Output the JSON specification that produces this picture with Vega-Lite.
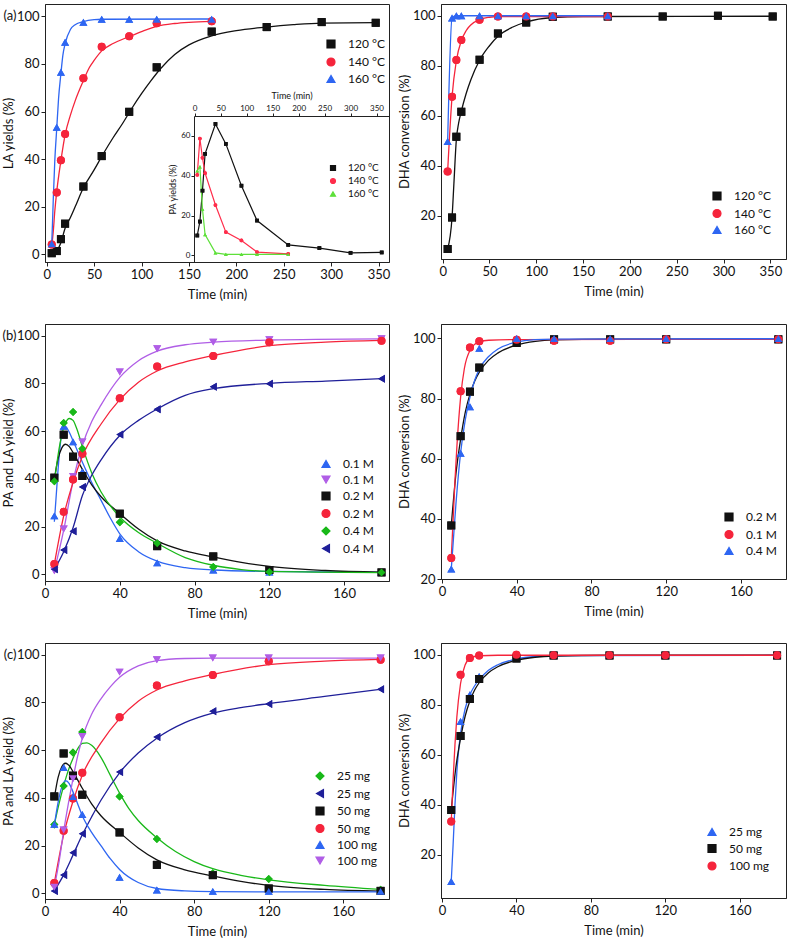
{
"$schema": "https://vega.github.io/schema/vega-lite/v6.json",
"padding": {"left": 1, "top": 3, "right": 2, "bottom": 2},
"config": {
  "font": "Lato",
  "view": {"stroke": "#222222", "strokeWidth": 1},
  "axis": {"grid": false, "domainColor": "#222222", "tickColor": "#222222", "labelColor": "#111111", "titleColor": "#111111", "labelFontSize": 13, "titleFontSize": 13, "titleFontWeight": "normal", "tickSize": 4, "labelPadding": 2, "labelFlush": false, "labelOverlap": false},
  "axisX": {"titlePadding": 7},
  "axisY": {"titlePadding": 1},
  "legend": {"symbolSize": 64, "symbolStrokeWidth": 1.2, "labelFontSize": 12, "labelOffset": 11, "rowPadding": 3.5, "labelColor": "#111111", "symbolOpacity": 1},
  "title": {"fontSize": 13, "fontWeight": "normal", "color": "#111111"}
},
"datasets": {
  "aL_pts": [
    {"s":"120 °C","t":5.3,"v":0.5},{"s":"120 °C","t":10.6,"v":1.4},{"s":"120 °C","t":15,"v":6.4},{"s":"120 °C","t":19.4,"v":12.9},{"s":"120 °C","t":38.7,"v":28.5},{"s":"120 °C","t":58,"v":41.3},{"s":"120 °C","t":87,"v":59.9},{"s":"120 °C","t":116,"v":78.6},{"s":"120 °C","t":174,"v":93.6},{"s":"120 °C","t":232,"v":95.5},{"s":"120 °C","t":290,"v":97.6},{"s":"120 °C","t":347,"v":97.3},
    {"s":"140 °C","t":5.3,"v":4.2},{"s":"140 °C","t":10.6,"v":26},{"s":"140 °C","t":15,"v":39.6},{"s":"140 °C","t":19.4,"v":50.6},{"s":"140 °C","t":38.7,"v":74},{"s":"140 °C","t":58,"v":87.2},{"s":"140 °C","t":87,"v":91.6},{"s":"140 °C","t":116,"v":97.1},{"s":"140 °C","t":174,"v":97.9},
    {"s":"160 °C","t":5.3,"v":4.5},{"s":"160 °C","t":10.6,"v":53.4},{"s":"160 °C","t":15,"v":76.5},{"s":"160 °C","t":19.4,"v":89.1},{"s":"160 °C","t":38.7,"v":97.5},{"s":"160 °C","t":58,"v":98.8},{"s":"160 °C","t":87,"v":98.8},{"s":"160 °C","t":116,"v":98.8},{"s":"160 °C","t":174,"v":98.8}
  ],
  "aL_fit": [
    {"s":"120 °C","t":5.3,"v":0.5},{"s":"120 °C","t":10.6,"v":1.6},{"s":"120 °C","t":15,"v":5},{"s":"120 °C","t":19.4,"v":11},{"s":"120 °C","t":25,"v":15.5},{"s":"120 °C","t":30,"v":20},{"s":"120 °C","t":38.7,"v":28},{"s":"120 °C","t":50,"v":35.5},{"s":"120 °C","t":60,"v":42.5},{"s":"120 °C","t":70,"v":49},{"s":"120 °C","t":80,"v":55},{"s":"120 °C","t":90,"v":61.5},{"s":"120 °C","t":100,"v":67.5},{"s":"120 °C","t":110,"v":73},{"s":"120 °C","t":120,"v":78},{"s":"120 °C","t":135,"v":84},{"s":"120 °C","t":150,"v":88},{"s":"120 °C","t":174,"v":91.8},{"s":"120 °C","t":200,"v":94},{"s":"120 °C","t":232,"v":95.5},{"s":"120 °C","t":260,"v":96.5},{"s":"120 °C","t":290,"v":97.2},{"s":"120 °C","t":347,"v":97.4},
    {"s":"140 °C","t":5.3,"v":3.5},{"s":"140 °C","t":7,"v":10},{"s":"140 °C","t":8.5,"v":18},{"s":"140 °C","t":10.6,"v":26.5},{"s":"140 °C","t":13,"v":34},{"s":"140 °C","t":15,"v":39.5},{"s":"140 °C","t":19.4,"v":50.2},{"s":"140 °C","t":25,"v":58.5},{"s":"140 °C","t":30,"v":64.5},{"s":"140 °C","t":38.7,"v":73},{"s":"140 °C","t":45,"v":78.5},{"s":"140 °C","t":50,"v":81.5},{"s":"140 °C","t":58,"v":85.5},{"s":"140 °C","t":70,"v":88.6},{"s":"140 °C","t":87,"v":91.5},{"s":"140 °C","t":100,"v":93.6},{"s":"140 °C","t":116,"v":95.8},{"s":"140 °C","t":135,"v":97},{"s":"140 °C","t":150,"v":97.5},{"s":"140 °C","t":174,"v":97.9},
    {"s":"160 °C","t":5.3,"v":4.5},{"s":"160 °C","t":6,"v":12},{"s":"160 °C","t":7,"v":24},{"s":"160 °C","t":8.5,"v":39},{"s":"160 °C","t":10.6,"v":53},{"s":"160 °C","t":12.5,"v":65.5},{"s":"160 °C","t":15,"v":76},{"s":"160 °C","t":17,"v":83.5},{"s":"160 °C","t":19.4,"v":88.5},{"s":"160 °C","t":25,"v":94.5},{"s":"160 °C","t":30,"v":96.5},{"s":"160 °C","t":38.7,"v":97.8},{"s":"160 °C","t":50,"v":98.6},{"s":"160 °C","t":58,"v":98.8},{"s":"160 °C","t":174,"v":98.9}
  ],
  "inset": [
    {"s":"120 °C","t":5,"v":10},{"s":"120 °C","t":10,"v":17},{"s":"120 °C","t":15,"v":32.5},{"s":"120 °C","t":20,"v":51},{"s":"120 °C","t":40,"v":66},{"s":"120 °C","t":60,"v":56},{"s":"120 °C","t":90,"v":35},{"s":"120 °C","t":120,"v":17.5},{"s":"120 °C","t":180,"v":5.3},{"s":"120 °C","t":240,"v":3.7},{"s":"120 °C","t":300,"v":1.3},{"s":"120 °C","t":360,"v":1.5},
    {"s":"140 °C","t":5,"v":40.5},{"s":"140 °C","t":10,"v":58.7},{"s":"140 °C","t":15,"v":49},{"s":"140 °C","t":20,"v":41.3},{"s":"140 °C","t":40,"v":25.3},{"s":"140 °C","t":60,"v":11.7},{"s":"140 °C","t":90,"v":7.5},{"s":"140 °C","t":120,"v":1.7},{"s":"140 °C","t":180,"v":0.8},
    {"s":"160 °C","t":5,"v":42.5},{"s":"160 °C","t":10,"v":44.5},{"s":"160 °C","t":15,"v":23.3},{"s":"160 °C","t":20,"v":10.5},{"s":"160 °C","t":40,"v":1.3},{"s":"160 °C","t":60,"v":0.5},{"s":"160 °C","t":90,"v":0.5},{"s":"160 °C","t":120,"v":0.5},{"s":"160 °C","t":180,"v":0.5}
  ],
  "aR_pts": [
    {"s":"120 °C","t":5.3,"v":6.7},{"s":"120 °C","t":10,"v":19.3},{"s":"120 °C","t":14.6,"v":51.6},{"s":"120 °C","t":19.9,"v":61.6},{"s":"120 °C","t":39.4,"v":82.4},{"s":"120 °C","t":59,"v":92.9},{"s":"120 °C","t":89.2,"v":97.3},{"s":"120 °C","t":117.6,"v":99.6},{"s":"120 °C","t":176.3,"v":99.7},{"s":"120 °C","t":235,"v":99.7},{"s":"120 °C","t":294,"v":100},{"s":"120 °C","t":352.5,"v":99.7},
    {"s":"140 °C","t":5.3,"v":37.7},{"s":"140 °C","t":10,"v":67.6},{"s":"140 °C","t":14.6,"v":82.3},{"s":"140 °C","t":19.9,"v":90.3},{"s":"140 °C","t":39.4,"v":98.4},{"s":"140 °C","t":59,"v":99.7},{"s":"140 °C","t":89.2,"v":99.7},{"s":"140 °C","t":117.6,"v":99.7},{"s":"140 °C","t":176.3,"v":99.7},
    {"s":"160 °C","t":5.3,"v":49.7},{"s":"160 °C","t":10,"v":99.1},{"s":"160 °C","t":14.6,"v":100},{"s":"160 °C","t":19.9,"v":100},{"s":"160 °C","t":39.4,"v":100},{"s":"160 °C","t":59,"v":100},{"s":"160 °C","t":89.2,"v":100},{"s":"160 °C","t":117.6,"v":100},{"s":"160 °C","t":176.3,"v":100}
  ],
  "aR_fit": [
    {"s":"120 °C","t":5.3,"v":6.7},{"s":"120 °C","t":10,"v":19.3},{"s":"120 °C","t":12,"v":33},{"s":"120 °C","t":14.6,"v":50.5},{"s":"120 °C","t":17,"v":57},{"s":"120 °C","t":19.9,"v":61.8},{"s":"120 °C","t":25,"v":68.8},{"s":"120 °C","t":30,"v":74.3},{"s":"120 °C","t":39.4,"v":82.2},{"s":"120 °C","t":50,"v":88},{"s":"120 °C","t":59,"v":91.8},{"s":"120 °C","t":75,"v":95.5},{"s":"120 °C","t":89.2,"v":97.5},{"s":"120 °C","t":117.6,"v":99.3},{"s":"120 °C","t":150,"v":99.7},{"s":"120 °C","t":352.5,"v":99.8},
    {"s":"140 °C","t":5.3,"v":37.7},{"s":"140 °C","t":10,"v":67.6},{"s":"140 °C","t":14.6,"v":82},{"s":"140 °C","t":19.9,"v":90},{"s":"140 °C","t":25,"v":94},{"s":"140 °C","t":30,"v":96.3},{"s":"140 °C","t":39.4,"v":98.5},{"s":"140 °C","t":50,"v":99.4},{"s":"140 °C","t":59,"v":99.7},{"s":"140 °C","t":176.3,"v":99.7},
    {"s":"160 °C","t":5.3,"v":49.7},{"s":"160 °C","t":10,"v":99.1},{"s":"160 °C","t":14.6,"v":100},{"s":"160 °C","t":176.3,"v":100}
  ],
  "bL_pts": [
    {"s":"PA 0.1 M","t":5,"v":24.5},{"s":"PA 0.1 M","t":10,"v":62},{"s":"PA 0.1 M","t":15,"v":55.5},{"s":"PA 0.1 M","t":20,"v":43},{"s":"PA 0.1 M","t":40,"v":15},{"s":"PA 0.1 M","t":60,"v":4.8},{"s":"PA 0.1 M","t":90,"v":1.8},{"s":"PA 0.1 M","t":120,"v":1},{"s":"PA 0.1 M","t":180,"v":0.8},
    {"s":"LA 0.1 M","t":5,"v":1.5},{"s":"LA 0.1 M","t":10,"v":19},{"s":"LA 0.1 M","t":15,"v":41},{"s":"LA 0.1 M","t":20,"v":55.5},{"s":"LA 0.1 M","t":40,"v":84.8},{"s":"LA 0.1 M","t":60,"v":94.5},{"s":"LA 0.1 M","t":90,"v":97.3},{"s":"LA 0.1 M","t":120,"v":98.3},{"s":"LA 0.1 M","t":180,"v":98.7},
    {"s":"PA 0.2 M","t":5,"v":40.5},{"s":"PA 0.2 M","t":10,"v":58.5},{"s":"PA 0.2 M","t":15,"v":49.3},{"s":"PA 0.2 M","t":20,"v":41.2},{"s":"PA 0.2 M","t":40,"v":25.4},{"s":"PA 0.2 M","t":60,"v":11.8},{"s":"PA 0.2 M","t":90,"v":7.5},{"s":"PA 0.2 M","t":120,"v":1.8},{"s":"PA 0.2 M","t":180,"v":0.8},
    {"s":"LA 0.2 M","t":5,"v":4.3},{"s":"LA 0.2 M","t":10,"v":26.2},{"s":"LA 0.2 M","t":15,"v":39.7},{"s":"LA 0.2 M","t":20,"v":50.5},{"s":"LA 0.2 M","t":40,"v":73.8},{"s":"LA 0.2 M","t":60,"v":87.1},{"s":"LA 0.2 M","t":90,"v":91.5},{"s":"LA 0.2 M","t":120,"v":97.2},{"s":"LA 0.2 M","t":180,"v":97.9},
    {"s":"PA 0.4 M","t":5,"v":39},{"s":"PA 0.4 M","t":10,"v":63.4},{"s":"PA 0.4 M","t":15,"v":68},{"s":"PA 0.4 M","t":20,"v":52.6},{"s":"PA 0.4 M","t":40,"v":21.8},{"s":"PA 0.4 M","t":60,"v":13},{"s":"PA 0.4 M","t":90,"v":3.1},{"s":"PA 0.4 M","t":120,"v":1},{"s":"PA 0.4 M","t":180,"v":0.8},
    {"s":"LA 0.4 M","t":5,"v":2.1},{"s":"LA 0.4 M","t":10,"v":10.2},{"s":"LA 0.4 M","t":15,"v":18},{"s":"LA 0.4 M","t":20,"v":36.6},{"s":"LA 0.4 M","t":40,"v":58.6},{"s":"LA 0.4 M","t":60,"v":69.2},{"s":"LA 0.4 M","t":90,"v":78.6},{"s":"LA 0.4 M","t":120,"v":79.9},{"s":"LA 0.4 M","t":180,"v":82}
  ],
  "bL_fit": [
    {"s":"PA 0.1 M","t":5,"v":22},{"s":"PA 0.1 M","t":6,"v":33},{"s":"PA 0.1 M","t":7,"v":44},{"s":"PA 0.1 M","t":8,"v":53},{"s":"PA 0.1 M","t":9,"v":59.5},{"s":"PA 0.1 M","t":10,"v":62},{"s":"PA 0.1 M","t":11,"v":62},{"s":"PA 0.1 M","t":12,"v":61},{"s":"PA 0.1 M","t":13,"v":59.5},{"s":"PA 0.1 M","t":15,"v":56},{"s":"PA 0.1 M","t":17.5,"v":51.5},{"s":"PA 0.1 M","t":20,"v":47},{"s":"PA 0.1 M","t":25,"v":38.5},{"s":"PA 0.1 M","t":30,"v":31},{"s":"PA 0.1 M","t":35,"v":23.5},{"s":"PA 0.1 M","t":40,"v":17},{"s":"PA 0.1 M","t":50,"v":9.5},{"s":"PA 0.1 M","t":60,"v":5.5},{"s":"PA 0.1 M","t":75,"v":2.8},{"s":"PA 0.1 M","t":90,"v":1.8},{"s":"PA 0.1 M","t":120,"v":1.2},{"s":"PA 0.1 M","t":180,"v":0.8},
    {"s":"LA 0.1 M","t":5,"v":1.5},{"s":"LA 0.1 M","t":10,"v":18.5},{"s":"LA 0.1 M","t":15,"v":39},{"s":"LA 0.1 M","t":20,"v":54},{"s":"LA 0.1 M","t":25,"v":64},{"s":"LA 0.1 M","t":30,"v":71},{"s":"LA 0.1 M","t":40,"v":82.5},{"s":"LA 0.1 M","t":50,"v":89.5},{"s":"LA 0.1 M","t":60,"v":93.5},{"s":"LA 0.1 M","t":75,"v":96.2},{"s":"LA 0.1 M","t":90,"v":97.3},{"s":"LA 0.1 M","t":120,"v":98.2},{"s":"LA 0.1 M","t":180,"v":98.7},
    {"s":"PA 0.2 M","t":5,"v":40},{"s":"PA 0.2 M","t":7,"v":48.5},{"s":"PA 0.2 M","t":9,"v":53},{"s":"PA 0.2 M","t":11,"v":54.5},{"s":"PA 0.2 M","t":13,"v":53.5},{"s":"PA 0.2 M","t":15,"v":51},{"s":"PA 0.2 M","t":20,"v":44},{"s":"PA 0.2 M","t":25,"v":37.5},{"s":"PA 0.2 M","t":30,"v":32.5},{"s":"PA 0.2 M","t":40,"v":25.5},{"s":"PA 0.2 M","t":50,"v":19},{"s":"PA 0.2 M","t":60,"v":14},{"s":"PA 0.2 M","t":75,"v":9.8},{"s":"PA 0.2 M","t":90,"v":7.3},{"s":"PA 0.2 M","t":105,"v":5},{"s":"PA 0.2 M","t":120,"v":3.3},{"s":"PA 0.2 M","t":150,"v":1.6},{"s":"PA 0.2 M","t":180,"v":0.9},
    {"s":"LA 0.2 M","t":5,"v":4.3},{"s":"LA 0.2 M","t":10,"v":24.5},{"s":"LA 0.2 M","t":15,"v":38.5},{"s":"LA 0.2 M","t":20,"v":49.5},{"s":"LA 0.2 M","t":30,"v":63},{"s":"LA 0.2 M","t":40,"v":73.2},{"s":"LA 0.2 M","t":50,"v":80.5},{"s":"LA 0.2 M","t":60,"v":85.2},{"s":"LA 0.2 M","t":75,"v":89},{"s":"LA 0.2 M","t":90,"v":91.7},{"s":"LA 0.2 M","t":120,"v":95.8},{"s":"LA 0.2 M","t":150,"v":97.3},{"s":"LA 0.2 M","t":180,"v":98},
    {"s":"PA 0.4 M","t":5,"v":38.5},{"s":"PA 0.4 M","t":7,"v":50},{"s":"PA 0.4 M","t":9,"v":58.5},{"s":"PA 0.4 M","t":11,"v":63.5},{"s":"PA 0.4 M","t":13,"v":65.3},{"s":"PA 0.4 M","t":15,"v":64.5},{"s":"PA 0.4 M","t":17,"v":61},{"s":"PA 0.4 M","t":20,"v":53.5},{"s":"PA 0.4 M","t":25,"v":42.5},{"s":"PA 0.4 M","t":30,"v":34.5},{"s":"PA 0.4 M","t":40,"v":24},{"s":"PA 0.4 M","t":50,"v":17.5},{"s":"PA 0.4 M","t":60,"v":13},{"s":"PA 0.4 M","t":75,"v":7},{"s":"PA 0.4 M","t":90,"v":3.8},{"s":"PA 0.4 M","t":105,"v":2},{"s":"PA 0.4 M","t":120,"v":1.2},{"s":"PA 0.4 M","t":180,"v":0.7},
    {"s":"LA 0.4 M","t":5,"v":2.1},{"s":"LA 0.4 M","t":10,"v":9.5},{"s":"LA 0.4 M","t":15,"v":19.5},{"s":"LA 0.4 M","t":20,"v":33},{"s":"LA 0.4 M","t":25,"v":41.5},{"s":"LA 0.4 M","t":30,"v":48},{"s":"LA 0.4 M","t":40,"v":58.2},{"s":"LA 0.4 M","t":50,"v":64.5},{"s":"LA 0.4 M","t":60,"v":69.3},{"s":"LA 0.4 M","t":75,"v":75},{"s":"LA 0.4 M","t":90,"v":77.8},{"s":"LA 0.4 M","t":120,"v":80},{"s":"LA 0.4 M","t":150,"v":81},{"s":"LA 0.4 M","t":180,"v":82}
  ],
  "bR_pts": [
    {"s":"0.2 M","t":5,"v":37.8},{"s":"0.2 M","t":10,"v":67.5},{"s":"0.2 M","t":15,"v":82.3},{"s":"0.2 M","t":20,"v":90.3},{"s":"0.2 M","t":40,"v":98.5},{"s":"0.2 M","t":60,"v":99.7},{"s":"0.2 M","t":90,"v":99.7},{"s":"0.2 M","t":120,"v":99.7},{"s":"0.2 M","t":180,"v":99.7},
    {"s":"0.1 M","t":5,"v":27},{"s":"0.1 M","t":10,"v":82.4},{"s":"0.1 M","t":15,"v":97},{"s":"0.1 M","t":20,"v":99.1},{"s":"0.1 M","t":40,"v":99.6},{"s":"0.1 M","t":60,"v":99.2},{"s":"0.1 M","t":90,"v":99.2},{"s":"0.1 M","t":120,"v":99.7},{"s":"0.1 M","t":180,"v":99.7},
    {"s":"0.4 M","t":5,"v":23.3},{"s":"0.4 M","t":10,"v":61.8},{"s":"0.4 M","t":15,"v":77.3},{"s":"0.4 M","t":20,"v":96.7},{"s":"0.4 M","t":40,"v":100},{"s":"0.4 M","t":60,"v":100},{"s":"0.4 M","t":90,"v":100},{"s":"0.4 M","t":120,"v":100},{"s":"0.4 M","t":180,"v":100}
  ],
  "bR_fit": [
    {"s":"0.2 M","t":5,"v":37.8},{"s":"0.2 M","t":7.5,"v":55},{"s":"0.2 M","t":10,"v":66.5},{"s":"0.2 M","t":12.5,"v":75.5},{"s":"0.2 M","t":15,"v":81.5},{"s":"0.2 M","t":17.5,"v":85.8},{"s":"0.2 M","t":20,"v":88.8},{"s":"0.2 M","t":25,"v":92.8},{"s":"0.2 M","t":30,"v":95.2},{"s":"0.2 M","t":40,"v":97.8},{"s":"0.2 M","t":50,"v":99},{"s":"0.2 M","t":60,"v":99.5},{"s":"0.2 M","t":90,"v":99.8},{"s":"0.2 M","t":180,"v":99.8},
    {"s":"0.1 M","t":5,"v":27},{"s":"0.1 M","t":6,"v":40},{"s":"0.1 M","t":7,"v":53},{"s":"0.1 M","t":8,"v":64},{"s":"0.1 M","t":10,"v":80.5},{"s":"0.1 M","t":12,"v":90},{"s":"0.1 M","t":15,"v":96},{"s":"0.1 M","t":20,"v":98.9},{"s":"0.1 M","t":25,"v":99.4},{"s":"0.1 M","t":40,"v":99.6},{"s":"0.1 M","t":180,"v":99.7},
    {"s":"0.4 M","t":5,"v":23.3},{"s":"0.4 M","t":6,"v":32},{"s":"0.4 M","t":7.5,"v":45},{"s":"0.4 M","t":10,"v":62},{"s":"0.4 M","t":12.5,"v":73},{"s":"0.4 M","t":15,"v":80.5},{"s":"0.4 M","t":17.5,"v":86},{"s":"0.4 M","t":20,"v":89.8},{"s":"0.4 M","t":25,"v":94},{"s":"0.4 M","t":30,"v":96.5},{"s":"0.4 M","t":40,"v":98.8},{"s":"0.4 M","t":50,"v":99.6},{"s":"0.4 M","t":60,"v":99.8},{"s":"0.4 M","t":180,"v":99.9}
  ],
  "cL_pts": [
    {"s":"PA 25 mg","t":5,"v":28.8},{"s":"PA 25 mg","t":10,"v":45},{"s":"PA 25 mg","t":15,"v":59},{"s":"PA 25 mg","t":20,"v":67.6},{"s":"PA 25 mg","t":40,"v":40.6},{"s":"PA 25 mg","t":60,"v":22.8},{"s":"PA 25 mg","t":90,"v":8.4},{"s":"PA 25 mg","t":120,"v":6},{"s":"PA 25 mg","t":180,"v":1.5},
    {"s":"LA 25 mg","t":5,"v":1},{"s":"LA 25 mg","t":10,"v":7.7},{"s":"LA 25 mg","t":15,"v":17},{"s":"LA 25 mg","t":20,"v":25},{"s":"LA 25 mg","t":40,"v":50.8},{"s":"LA 25 mg","t":60,"v":65.5},{"s":"LA 25 mg","t":90,"v":76.3},{"s":"LA 25 mg","t":120,"v":79.3},{"s":"LA 25 mg","t":180,"v":85.5},
    {"s":"PA 50 mg","t":5,"v":40.6},{"s":"PA 50 mg","t":10,"v":58.6},{"s":"PA 50 mg","t":15,"v":49.3},{"s":"PA 50 mg","t":20,"v":41.3},{"s":"PA 50 mg","t":40,"v":25.5},{"s":"PA 50 mg","t":60,"v":11.9},{"s":"PA 50 mg","t":90,"v":7.6},{"s":"PA 50 mg","t":120,"v":2},{"s":"PA 50 mg","t":180,"v":1},
    {"s":"LA 50 mg","t":5,"v":4.3},{"s":"LA 50 mg","t":10,"v":26.2},{"s":"LA 50 mg","t":15,"v":39.7},{"s":"LA 50 mg","t":20,"v":50.5},{"s":"LA 50 mg","t":40,"v":73.8},{"s":"LA 50 mg","t":60,"v":87.1},{"s":"LA 50 mg","t":90,"v":91.5},{"s":"LA 50 mg","t":120,"v":97.2},{"s":"LA 50 mg","t":180,"v":97.9},
    {"s":"PA 100 mg","t":5,"v":28.9},{"s":"PA 100 mg","t":10,"v":52.7},{"s":"PA 100 mg","t":15,"v":40.5},{"s":"PA 100 mg","t":20,"v":33},{"s":"PA 100 mg","t":40,"v":6.7},{"s":"PA 100 mg","t":60,"v":1.4},{"s":"PA 100 mg","t":90,"v":0.8},{"s":"PA 100 mg","t":120,"v":0.8},{"s":"PA 100 mg","t":180,"v":0.8},
    {"s":"LA 100 mg","t":5,"v":2.5},{"s":"LA 100 mg","t":10,"v":26.5},{"s":"LA 100 mg","t":15,"v":48},{"s":"LA 100 mg","t":20,"v":65.7},{"s":"LA 100 mg","t":40,"v":92.7},{"s":"LA 100 mg","t":60,"v":97.9},{"s":"LA 100 mg","t":90,"v":98.6},{"s":"LA 100 mg","t":120,"v":98.6},{"s":"LA 100 mg","t":180,"v":98.6}
  ],
  "cL_fit": [
    {"s":"PA 25 mg","t":5,"v":28.8},{"s":"PA 25 mg","t":7.5,"v":37.5},{"s":"PA 25 mg","t":10,"v":45},{"s":"PA 25 mg","t":12.5,"v":51.5},{"s":"PA 25 mg","t":15,"v":56.5},{"s":"PA 25 mg","t":17.5,"v":60.5},{"s":"PA 25 mg","t":20,"v":62.8},{"s":"PA 25 mg","t":22.5,"v":63},{"s":"PA 25 mg","t":25,"v":62},{"s":"PA 25 mg","t":30,"v":57},{"s":"PA 25 mg","t":35,"v":49.5},{"s":"PA 25 mg","t":40,"v":42},{"s":"PA 25 mg","t":45,"v":35.5},{"s":"PA 25 mg","t":50,"v":30.5},{"s":"PA 25 mg","t":60,"v":23.3},{"s":"PA 25 mg","t":70,"v":17.5},{"s":"PA 25 mg","t":80,"v":13.3},{"s":"PA 25 mg","t":90,"v":10.3},{"s":"PA 25 mg","t":105,"v":7.5},{"s":"PA 25 mg","t":120,"v":5.6},{"s":"PA 25 mg","t":150,"v":3.3},{"s":"PA 25 mg","t":180,"v":1.6},
    {"s":"LA 25 mg","t":5,"v":1},{"s":"LA 25 mg","t":10,"v":7.7},{"s":"LA 25 mg","t":15,"v":16},{"s":"LA 25 mg","t":20,"v":24.5},{"s":"LA 25 mg","t":25,"v":32},{"s":"LA 25 mg","t":30,"v":39},{"s":"LA 25 mg","t":40,"v":50.5},{"s":"LA 25 mg","t":50,"v":58.8},{"s":"LA 25 mg","t":60,"v":65},{"s":"LA 25 mg","t":75,"v":71.5},{"s":"LA 25 mg","t":90,"v":75.5},{"s":"LA 25 mg","t":105,"v":77.8},{"s":"LA 25 mg","t":120,"v":79.5},{"s":"LA 25 mg","t":150,"v":82.5},{"s":"LA 25 mg","t":180,"v":85.5},
    {"s":"PA 50 mg","t":5,"v":40},{"s":"PA 50 mg","t":7,"v":48.5},{"s":"PA 50 mg","t":9,"v":53},{"s":"PA 50 mg","t":11,"v":54.5},{"s":"PA 50 mg","t":13,"v":53.5},{"s":"PA 50 mg","t":15,"v":51},{"s":"PA 50 mg","t":20,"v":44},{"s":"PA 50 mg","t":25,"v":37.5},{"s":"PA 50 mg","t":30,"v":32.5},{"s":"PA 50 mg","t":40,"v":25.5},{"s":"PA 50 mg","t":50,"v":19},{"s":"PA 50 mg","t":60,"v":14},{"s":"PA 50 mg","t":75,"v":9.8},{"s":"PA 50 mg","t":90,"v":7.3},{"s":"PA 50 mg","t":105,"v":5},{"s":"PA 50 mg","t":120,"v":3.3},{"s":"PA 50 mg","t":150,"v":1.6},{"s":"PA 50 mg","t":180,"v":0.9},
    {"s":"LA 50 mg","t":5,"v":4.3},{"s":"LA 50 mg","t":10,"v":24.5},{"s":"LA 50 mg","t":15,"v":38.5},{"s":"LA 50 mg","t":20,"v":49.5},{"s":"LA 50 mg","t":30,"v":63},{"s":"LA 50 mg","t":40,"v":73.2},{"s":"LA 50 mg","t":50,"v":80.5},{"s":"LA 50 mg","t":60,"v":85.2},{"s":"LA 50 mg","t":75,"v":89},{"s":"LA 50 mg","t":90,"v":91.7},{"s":"LA 50 mg","t":120,"v":95.8},{"s":"LA 50 mg","t":150,"v":97.3},{"s":"LA 50 mg","t":180,"v":98},
    {"s":"PA 100 mg","t":5,"v":28.5},{"s":"PA 100 mg","t":7,"v":38},{"s":"PA 100 mg","t":9,"v":44.5},{"s":"PA 100 mg","t":11,"v":47.2},{"s":"PA 100 mg","t":13,"v":46},{"s":"PA 100 mg","t":15,"v":42.5},{"s":"PA 100 mg","t":17.5,"v":37.5},{"s":"PA 100 mg","t":20,"v":32.5},{"s":"PA 100 mg","t":25,"v":25.5},{"s":"PA 100 mg","t":30,"v":20},{"s":"PA 100 mg","t":35,"v":14.5},{"s":"PA 100 mg","t":40,"v":10},{"s":"PA 100 mg","t":50,"v":4.5},{"s":"PA 100 mg","t":60,"v":2},{"s":"PA 100 mg","t":75,"v":1},{"s":"PA 100 mg","t":90,"v":0.7},{"s":"PA 100 mg","t":120,"v":0.6},{"s":"PA 100 mg","t":180,"v":0.6},
    {"s":"LA 100 mg","t":5,"v":2.5},{"s":"LA 100 mg","t":7.5,"v":13},{"s":"LA 100 mg","t":10,"v":26},{"s":"LA 100 mg","t":12.5,"v":37.5},{"s":"LA 100 mg","t":15,"v":48},{"s":"LA 100 mg","t":17.5,"v":57.5},{"s":"LA 100 mg","t":20,"v":65},{"s":"LA 100 mg","t":25,"v":75},{"s":"LA 100 mg","t":30,"v":81.5},{"s":"LA 100 mg","t":35,"v":86.5},{"s":"LA 100 mg","t":40,"v":90.5},{"s":"LA 100 mg","t":50,"v":95.3},{"s":"LA 100 mg","t":60,"v":97.5},{"s":"LA 100 mg","t":75,"v":98.4},{"s":"LA 100 mg","t":90,"v":98.6},{"s":"LA 100 mg","t":180,"v":98.6}
  ],
  "cR_pts": [
    {"s":"25 mg","t":5,"v":9.3},{"s":"25 mg","t":10,"v":73.3},{"s":"25 mg","t":15,"v":84},{"s":"25 mg","t":20,"v":91.3},{"s":"25 mg","t":40,"v":98.7},{"s":"25 mg","t":60,"v":99.7},{"s":"25 mg","t":90,"v":99.7},{"s":"25 mg","t":120,"v":99.7},{"s":"25 mg","t":180,"v":99.7},
    {"s":"50 mg","t":5,"v":37.9},{"s":"50 mg","t":10,"v":67.5},{"s":"50 mg","t":15,"v":82.3},{"s":"50 mg","t":20,"v":90.3},{"s":"50 mg","t":40,"v":98.5},{"s":"50 mg","t":60,"v":99.7},{"s":"50 mg","t":90,"v":99.7},{"s":"50 mg","t":120,"v":99.7},{"s":"50 mg","t":180,"v":99.7},
    {"s":"100 mg","t":5,"v":33.3},{"s":"100 mg","t":10,"v":92},{"s":"100 mg","t":15,"v":98.7},{"s":"100 mg","t":20,"v":99.7},{"s":"100 mg","t":40,"v":100},{"s":"100 mg","t":60,"v":99.8},{"s":"100 mg","t":90,"v":99.8},{"s":"100 mg","t":120,"v":99.8},{"s":"100 mg","t":180,"v":99.8}
  ],
  "cR_fit": [
    {"s":"25 mg","t":5,"v":9.3},{"s":"25 mg","t":6,"v":24},{"s":"25 mg","t":7,"v":40},{"s":"25 mg","t":8,"v":53},{"s":"25 mg","t":9,"v":62},{"s":"25 mg","t":10,"v":68.5},{"s":"25 mg","t":12.5,"v":78.5},{"s":"25 mg","t":15,"v":84},{"s":"25 mg","t":17.5,"v":87.5},{"s":"25 mg","t":20,"v":90},{"s":"25 mg","t":25,"v":93.8},{"s":"25 mg","t":30,"v":96},{"s":"25 mg","t":40,"v":98.3},{"s":"25 mg","t":50,"v":99.3},{"s":"25 mg","t":60,"v":99.6},{"s":"25 mg","t":180,"v":99.8},
    {"s":"50 mg","t":5,"v":37.9},{"s":"50 mg","t":7.5,"v":55},{"s":"50 mg","t":10,"v":66.5},{"s":"50 mg","t":12.5,"v":75.5},{"s":"50 mg","t":15,"v":81.5},{"s":"50 mg","t":17.5,"v":85.8},{"s":"50 mg","t":20,"v":88.8},{"s":"50 mg","t":25,"v":92.8},{"s":"50 mg","t":30,"v":95.2},{"s":"50 mg","t":40,"v":97.8},{"s":"50 mg","t":50,"v":99},{"s":"50 mg","t":60,"v":99.5},{"s":"50 mg","t":90,"v":99.8},{"s":"50 mg","t":180,"v":99.8},
    {"s":"100 mg","t":5,"v":33.3},{"s":"100 mg","t":6,"v":50},{"s":"100 mg","t":7,"v":64},{"s":"100 mg","t":8,"v":75},{"s":"100 mg","t":10,"v":88.5},{"s":"100 mg","t":12.5,"v":96},{"s":"100 mg","t":15,"v":98.5},{"s":"100 mg","t":20,"v":99.6},{"s":"100 mg","t":30,"v":99.8},{"s":"100 mg","t":180,"v":99.8}
  ]
},
"columns": 2,
"spacing": {"row": 62, "column": 52},
"bounds": "flush",
"resolve": {"scale": {"color": "independent", "shape": "independent"}, "legend": {"color": "independent", "shape": "independent"}},
"concat": [
  {
    "width": 344, "height": 258,
    "title": {"text": "(a)", "anchor": "end", "frame": "group", "orient": "left", "angle": 0, "align": "left", "baseline": "top", "offset": 0, "dx": 14, "dy": 6},
    "layer": [
      {"layer": [
        {"data": {"name": "aL_pts"}, "mark": {"type": "point", "filled": true, "size": 64, "opacity": 1},
         "encoding": {
           "x": {"field": "t", "type": "quantitative", "scale": {"domain": [-1.8, 361], "nice": false, "zero": false}, "axis": {"orient": "bottom", "title": "Time (min)", "values": [0,50,100,150,200,250,300,350], "labelOverlap": false, "labelFlush": false}},
           "y": {"field": "v", "type": "quantitative", "scale": {"domain": [-3.2, 105.2], "nice": false, "zero": false}, "axis": {"orient": "left", "title": "LA yields (%)", "values": [0,20,40,60,80,100], "labelOverlap": false}},
           "color": {"field": "s", "type": "nominal", "scale": {"domain": ["120 °C","140 °C","160 °C"], "range": ["#111111","#f5243b","#2e66f2"]}, "legend": {"title": null, "orient": "none", "legendX": 280, "legendY": 34, "rowPadding": 4}},
           "shape": {"field": "s", "type": "nominal", "scale": {"domain": ["120 °C","140 °C","160 °C"], "range": ["square","circle","triangle-up"]}, "legend": {"title": null, "orient": "none", "legendX": 280, "legendY": 34, "rowPadding": 4}}}},
        {"data": {"name": "aL_fit"}, "mark": {"type": "line", "interpolate": "monotone", "strokeWidth": 1.3},
         "encoding": {
           "x": {"field": "t", "type": "quantitative"},
           "y": {"field": "v", "type": "quantitative"},
           "color": {"field": "s", "type": "nominal", "legend": null}}},
        {"data": {"name": "aL_pts"}, "mark": {"type": "point", "filled": true, "size": 64, "opacity": 1},
         "encoding": {
           "x": {"field": "t", "type": "quantitative"},
           "y": {"field": "v", "type": "quantitative"},
           "color": {"field": "s", "type": "nominal", "legend": null},
           "shape": {"field": "s", "type": "nominal", "legend": null}}}
      ]},
      {"layer": [
        {"data": {"name": "inset"}, "mark": {"type": "point", "filled": true, "size": 14, "opacity": 1},
         "encoding": {
           "x": {"field": "t", "type": "quantitative", "scale": {"domain": [-1.3, 374], "range": [149, 344], "nice": false, "zero": false}, "axis": {"orient": "top", "offset": -112, "title": "Time (min)", "values": [0,50,100,150,200,250,300,350], "labelFontSize": 8, "titleFontSize": 9, "tickSize": 3, "labelPadding": 1, "titlePadding": 4, "labelOverlap": false, "labelFlush": false}},
           "y": {"field": "v", "type": "quantitative", "scale": {"domain": [-3.3, 70], "range": [258, 112], "nice": false, "zero": false}, "axis": {"orient": "left", "offset": -149, "title": "PA yields (%)", "values": [0,10,20,30,40,50,60,70], "labelFontSize": 8, "titleFontSize": 9, "tickSize": 3, "labelPadding": 1, "titlePadding": 3, "labelOverlap": false}},
           "color": {"field": "s", "type": "nominal", "scale": {"domain": ["120 °C","140 °C","160 °C"], "range": ["#111111","#ff2d4b","#5ee03a"]}, "legend": {"title": null, "orient": "none", "legendX": 283, "legendY": 159, "labelFontSize": 10, "labelOffset": 10, "rowPadding": 3, "symbolSize": 25}},
           "shape": {"field": "s", "type": "nominal", "scale": {"domain": ["120 °C","140 °C","160 °C"], "range": ["square","circle","triangle-up"]}, "legend": {"title": null, "orient": "none", "legendX": 283, "legendY": 159, "labelFontSize": 10, "labelOffset": 10, "rowPadding": 3, "symbolSize": 25}}}},
        {"data": {"name": "inset"}, "mark": {"type": "line", "strokeWidth": 1.2},
         "encoding": {
           "x": {"field": "t", "type": "quantitative"},
           "y": {"field": "v", "type": "quantitative"},
           "color": {"field": "s", "type": "nominal", "legend": null}}},
        {"data": {"name": "inset"}, "mark": {"type": "point", "filled": true, "size": 14, "opacity": 1},
         "encoding": {
           "x": {"field": "t", "type": "quantitative"},
           "y": {"field": "v", "type": "quantitative"},
           "color": {"field": "s", "type": "nominal", "legend": null},
           "shape": {"field": "s", "type": "nominal", "legend": null}}}
      ]}
    ],
    "resolve": {"scale": {"x": "independent", "y": "independent", "color": "independent", "shape": "independent"}, "axis": {"x": "independent", "y": "independent"}, "legend": {"color": "independent", "shape": "independent"}}
  },
  {
    "width": 345, "height": 255,
    "layer": [
      {"data": {"name": "aR_pts"}, "mark": {"type": "point", "filled": true, "size": 64, "opacity": 1},
       "encoding": {
         "x": {"field": "t", "type": "quantitative", "scale": {"domain": [-1.8, 366.7], "nice": false, "zero": false}, "axis": {"orient": "bottom", "title": "Time (min)", "values": [0,50,100,150,200,250,300,350], "labelOverlap": false, "labelFlush": false}},
         "y": {"field": "v", "type": "quantitative", "scale": {"domain": [2.7, 104.7], "nice": false, "zero": false}, "axis": {"orient": "left", "title": "DHA conversion (%)", "values": [20,40,60,80,100], "labelOverlap": false}},
         "color": {"field": "s", "type": "nominal", "scale": {"domain": ["120 °C","140 °C","160 °C"], "range": ["#111111","#f5243b","#2e66f2"]}, "legend": {"title": null, "orient": "none", "legendX": 270, "legendY": 186}},
         "shape": {"field": "s", "type": "nominal", "scale": {"domain": ["120 °C","140 °C","160 °C"], "range": ["square","circle","triangle-up"]}, "legend": {"title": null, "orient": "none", "legendX": 270, "legendY": 186}}}},
      {"data": {"name": "aR_fit"}, "mark": {"type": "line", "interpolate": "monotone", "strokeWidth": 1.3},
       "encoding": {
         "x": {"field": "t", "type": "quantitative"},
         "y": {"field": "v", "type": "quantitative"},
         "color": {"field": "s", "type": "nominal", "legend": null}}},
      {"data": {"name": "aR_pts"}, "mark": {"type": "point", "filled": true, "size": 64, "opacity": 1},
       "encoding": {
         "x": {"field": "t", "type": "quantitative"},
         "y": {"field": "v", "type": "quantitative"},
         "color": {"field": "s", "type": "nominal", "legend": null},
         "shape": {"field": "s", "type": "nominal", "legend": null}}}
    ]
  },
  {
    "width": 344, "height": 257,
    "title": {"text": "(b)", "anchor": "end", "frame": "group", "orient": "left", "angle": 0, "align": "left", "baseline": "top", "offset": 0, "dx": 14, "dy": 6},
    "layer": [
      {"data": {"name": "bL_pts"}, "mark": {"type": "point", "filled": true, "size": 64, "opacity": 1},
       "encoding": {
         "x": {"field": "t", "type": "quantitative", "scale": {"domain": [0, 184], "nice": false, "zero": false}, "axis": {"orient": "bottom", "title": "Time (min)", "values": [0,20,40,60,80,100,120,140,160,180], "labelOverlap": false, "labelFlush": false}},
         "y": {"field": "v", "type": "quantitative", "scale": {"domain": [-2.8, 104.9], "nice": false, "zero": false}, "axis": {"orient": "left", "title": "PA and LA yield (%)", "values": [0,20,40,60,80,100], "labelOverlap": false}},
         "color": {"field": "s", "type": "nominal", "scale": {"domain": ["PA 0.1 M","LA 0.1 M","PA 0.2 M","LA 0.2 M","PA 0.4 M","LA 0.4 M"], "range": ["#2e66f2","#b05ee6","#111111","#f5243b","#19b819","#1f1f99"]}, "legend": {"title": null, "orient": "none", "legendX": 275, "legendY": 134, "labelExpr": "slice(datum.label, 3)"}},
         "shape": {"field": "s", "type": "nominal", "scale": {"domain": ["PA 0.1 M","LA 0.1 M","PA 0.2 M","LA 0.2 M","PA 0.4 M","LA 0.4 M"], "range": ["triangle-up","triangle-down","square","circle","diamond","triangle-left"]}, "legend": {"title": null, "orient": "none", "legendX": 275, "legendY": 134, "labelExpr": "slice(datum.label, 3)"}}}},
      {"data": {"name": "bL_fit"}, "mark": {"type": "line", "interpolate": "monotone", "strokeWidth": 1.3},
       "encoding": {
         "x": {"field": "t", "type": "quantitative"},
         "y": {"field": "v", "type": "quantitative"},
         "color": {"field": "s", "type": "nominal", "legend": null}}},
      {"data": {"name": "bL_pts"}, "mark": {"type": "point", "filled": true, "size": 64, "opacity": 1},
       "encoding": {
         "x": {"field": "t", "type": "quantitative"},
         "y": {"field": "v", "type": "quantitative"},
         "color": {"field": "s", "type": "nominal", "legend": null},
         "shape": {"field": "s", "type": "nominal", "legend": null}}}
    ]
  },
  {
    "width": 345, "height": 255,
    "layer": [
      {"data": {"name": "bR_pts"}, "mark": {"type": "point", "filled": true, "size": 64, "opacity": 1},
       "encoding": {
         "x": {"field": "t", "type": "quantitative", "scale": {"domain": [-0.5, 184.1], "nice": false, "zero": false}, "axis": {"orient": "bottom", "title": "Time (min)", "values": [0,20,40,60,80,100,120,140,160,180], "labelOverlap": false, "labelFlush": false}},
         "y": {"field": "v", "type": "quantitative", "scale": {"domain": [20, 104.8], "nice": false, "zero": false}, "axis": {"orient": "left", "title": "DHA conversion (%)", "values": [20,40,60,80,100], "labelOverlap": false}},
         "color": {"field": "s", "type": "nominal", "scale": {"domain": ["0.2 M","0.1 M","0.4 M"], "range": ["#111111","#f5243b","#2e66f2"]}, "legend": {"title": null, "orient": "none", "legendX": 282, "legendY": 187}},
         "shape": {"field": "s", "type": "nominal", "scale": {"domain": ["0.2 M","0.1 M","0.4 M"], "range": ["square","circle","triangle-up"]}, "legend": {"title": null, "orient": "none", "legendX": 282, "legendY": 187}}}},
      {"data": {"name": "bR_fit"}, "mark": {"type": "line", "interpolate": "monotone", "strokeWidth": 1.3},
       "encoding": {
         "x": {"field": "t", "type": "quantitative"},
         "y": {"field": "v", "type": "quantitative"},
         "color": {"field": "s", "type": "nominal", "legend": null}}},
      {"data": {"name": "bR_pts"}, "mark": {"type": "point", "filled": true, "size": 64, "opacity": 1},
       "encoding": {
         "x": {"field": "t", "type": "quantitative"},
         "y": {"field": "v", "type": "quantitative"},
         "color": {"field": "s", "type": "nominal", "legend": null},
         "shape": {"field": "s", "type": "nominal", "legend": null}}}
    ]
  },
  {
    "width": 344, "height": 256,
    "title": {"text": "(c)", "anchor": "end", "frame": "group", "orient": "left", "angle": 0, "align": "left", "baseline": "top", "offset": 0, "dx": 14, "dy": 6},
    "layer": [
      {"data": {"name": "cL_pts"}, "mark": {"type": "point", "filled": true, "size": 64, "opacity": 1},
       "encoding": {
         "x": {"field": "t", "type": "quantitative", "scale": {"domain": [0, 184.5], "nice": false, "zero": false}, "axis": {"orient": "bottom", "title": "Time (min)", "values": [0,20,40,60,80,100,120,140,160,180], "labelOverlap": false, "labelFlush": false}},
         "y": {"field": "v", "type": "quantitative", "scale": {"domain": [-2.4, 104.9], "nice": false, "zero": false}, "axis": {"orient": "left", "title": "PA and LA yield (%)", "values": [0,20,40,60,80,100], "labelOverlap": false}},
         "color": {"field": "s", "type": "nominal", "scale": {"domain": ["PA 25 mg","LA 25 mg","PA 50 mg","LA 50 mg","PA 100 mg","LA 100 mg"], "range": ["#19b819","#1f1f99","#111111","#f5243b","#2e66f2","#b05ee6"]}, "legend": {"title": null, "orient": "none", "legendX": 269, "legendY": 127, "labelExpr": "slice(datum.label, 3)"}},
         "shape": {"field": "s", "type": "nominal", "scale": {"domain": ["PA 25 mg","LA 25 mg","PA 50 mg","LA 50 mg","PA 100 mg","LA 100 mg"], "range": ["diamond","triangle-left","square","circle","triangle-up","triangle-down"]}, "legend": {"title": null, "orient": "none", "legendX": 269, "legendY": 127, "labelExpr": "slice(datum.label, 3)"}}}},
      {"data": {"name": "cL_fit"}, "mark": {"type": "line", "interpolate": "monotone", "strokeWidth": 1.3},
       "encoding": {
         "x": {"field": "t", "type": "quantitative"},
         "y": {"field": "v", "type": "quantitative"},
         "color": {"field": "s", "type": "nominal", "legend": null}}},
      {"data": {"name": "cL_pts"}, "mark": {"type": "point", "filled": true, "size": 64, "opacity": 1},
       "encoding": {
         "x": {"field": "t", "type": "quantitative"},
         "y": {"field": "v", "type": "quantitative"},
         "color": {"field": "s", "type": "nominal", "legend": null},
         "shape": {"field": "s", "type": "nominal", "legend": null}}}
    ]
  },
  {
    "width": 345, "height": 255,
    "layer": [
      {"data": {"name": "cR_pts"}, "mark": {"type": "point", "filled": true, "size": 64, "opacity": 1},
       "encoding": {
         "x": {"field": "t", "type": "quantitative", "scale": {"domain": [-0.5, 184.8], "nice": false, "zero": false}, "axis": {"orient": "bottom", "title": "Time (min)", "values": [0,20,40,60,80,100,120,140,160,180], "labelOverlap": false, "labelFlush": false}},
         "y": {"field": "v", "type": "quantitative", "scale": {"domain": [2.7, 104.7], "nice": false, "zero": false}, "axis": {"orient": "left", "title": "DHA conversion (%)", "values": [20,40,60,80,100], "labelOverlap": false}},
         "color": {"field": "s", "type": "nominal", "scale": {"domain": ["25 mg","50 mg","100 mg"], "range": ["#2e66f2","#111111","#f5243b"]}, "legend": {"title": null, "orient": "none", "legendX": 265, "legendY": 183}},
         "shape": {"field": "s", "type": "nominal", "scale": {"domain": ["25 mg","50 mg","100 mg"], "range": ["triangle-up","square","circle"]}, "legend": {"title": null, "orient": "none", "legendX": 265, "legendY": 183}}}},
      {"data": {"name": "cR_fit"}, "mark": {"type": "line", "interpolate": "monotone", "strokeWidth": 1.3},
       "encoding": {
         "x": {"field": "t", "type": "quantitative"},
         "y": {"field": "v", "type": "quantitative"},
         "color": {"field": "s", "type": "nominal", "legend": null}}},
      {"data": {"name": "cR_pts"}, "mark": {"type": "point", "filled": true, "size": 64, "opacity": 1},
       "encoding": {
         "x": {"field": "t", "type": "quantitative"},
         "y": {"field": "v", "type": "quantitative"},
         "color": {"field": "s", "type": "nominal", "legend": null},
         "shape": {"field": "s", "type": "nominal", "legend": null}}}
    ]
  }
]
}
